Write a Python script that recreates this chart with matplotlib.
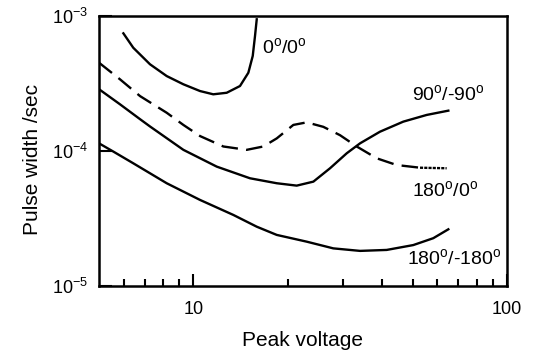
import numpy as np
import matplotlib
matplotlib.use("Agg")
import matplotlib.pyplot as plt
from matplotlib.ticker import FixedLocator, NullFormatter

plt.rcParams['font.family'] = ['Liberation Sans', 'DejaVu Sans']
plt.rcParams['mathtext.fontset'] = 'custom'
plt.rcParams['mathtext.rm'] = 'Liberation Sans'
plt.rcParams['mathtext.it'] = 'Liberation Sans'

# curves (peak voltage, pulse width in s)
v_00 = [5.98, 6.43, 7.27, 8.22, 9.29, 10.5, 11.57, 12.77, 14.08, 14.97, 15.46, 15.72, 15.92]
w_00 = [7.44e-4, 5.82e-4, 4.39e-4, 3.59e-4, 3.12e-4, 2.78e-4, 2.63e-4, 2.70e-4, 3.03e-4,
        3.80e-4, 5.06e-4, 7.11e-4, 9.45e-4]

v_180_0 = [5.0, 5.83, 6.76, 8.22, 9.29, 10.5, 12.46, 14.79, 16.71, 18.44, 20.83, 22.98,
           25.96, 29.34, 33.17, 38.42, 44.5, 52.8]
w_180_0 = [4.51e-4, 3.40e-4, 2.55e-4, 1.92e-4, 1.56e-4, 1.29e-4, 1.08e-4, 1.02e-4, 1.08e-4,
           1.24e-4, 1.56e-4, 1.63e-4, 1.51e-4, 1.31e-4, 1.08e-4, 8.83e-5, 7.87e-5, 7.52e-5]
v_180_0_tail = [52.8, 64.2]
w_180_0_tail = [7.52e-5, 7.45e-5]

v_90 = [5.0, 5.83, 6.76, 7.27, 9.29, 11.87, 15.15, 18.44, 21.35, 24.13, 27.27, 30.83,
        34.0, 39.36, 46.7, 55.46, 65.0]
w_90 = [2.87e-4, 2.22e-4, 1.72e-4, 1.52e-4, 1.02e-4, 7.66e-5, 6.28e-5, 5.77e-5, 5.54e-5,
        5.93e-5, 7.45e-5, 9.62e-5, 1.14e-4, 1.39e-4, 1.65e-4, 1.85e-4, 1.99e-4]

v_180 = [5.0, 5.56, 6.43, 8.22, 10.5, 13.41, 15.92, 18.44, 22.98, 27.93, 34.0, 41.34,
         50.25, 58.2, 65.0]
w_180 = [1.14e-4, 9.89e-5, 8.11e-5, 5.77e-5, 4.34e-5, 3.36e-5, 2.75e-5, 2.39e-5, 2.13e-5,
         1.90e-5, 1.82e-5, 1.85e-5, 2.01e-5, 2.26e-5, 2.63e-5]

labels = ['0$^\\mathregular{o}$/0$^\\mathregular{o}$',
          '90$^\\mathregular{o}$/-90$^\\mathregular{o}$',
          '180$^\\mathregular{o}$/0$^\\mathregular{o}$',
          '180$^\\mathregular{o}$/-180$^\\mathregular{o}$']
label_x = [16.55, 49.8, 49.8, 48.0]
label_y = [5.9e-4, 2.64e-4, 5.14e-5, 1.61e-5]

fig = plt.figure(figsize=(5.4, 3.56), dpi=100)
ax = fig.add_axes([99/540, 1-286/356, 408/540, 270/356])

lw = 1.7
line_kw = dict(color='black', lw=lw, solid_joinstyle='round', dash_joinstyle='round')
ax.plot(v_00, w_00, **line_kw)
ax.plot(v_180_0, w_180_0, ls=(0, (7, 3.5)), **line_kw)
ax.plot(v_180_0_tail, w_180_0_tail, ls=(0, (1.3, 0.5)), **line_kw)
ax.plot(v_90, w_90, **line_kw)
ax.plot(v_180, w_180, **line_kw)

for t, x, y in zip(labels, label_x, label_y):
    ax.text(x, y, t, fontsize=14, ha='left', va='center')

ax.set_xscale('log')
ax.set_yscale('log')
ax.set_xlim(5, 100)
ax.set_ylim(1e-5, 1e-3)

ax.xaxis.set_major_locator(FixedLocator([10, 100]))
ax.set_xticklabels(['10', '100'])
ax.xaxis.set_minor_locator(FixedLocator([6, 7, 8, 9, 20, 30, 40, 50, 60, 70, 80, 90]))
ax.xaxis.set_minor_formatter(NullFormatter())
ax.yaxis.set_major_locator(FixedLocator([1e-5, 1e-4, 1e-3]))
ax.set_yticklabels(['$\\mathregular{10^{-5}}$', '$\\mathregular{10^{-4}}$',
                    '$\\mathregular{10^{-3}}$'])
ax.yaxis.set_minor_locator(FixedLocator([]))

ax.tick_params(axis='both', which='major', direction='in', length=9, width=1.5,
               labelsize=13, pad=8)
ax.tick_params(axis='x', which='major', pad=11)
ax.tick_params(axis='x', which='minor', direction='in', length=5, width=1.5)
for s in ax.spines.values():
    s.set_linewidth(1.8)

ax.set_xlabel('Peak voltage', fontsize=15, labelpad=9)
ax.set_ylabel('Pulse width /sec', fontsize=15)
ax.yaxis.set_label_coords(-0.14, 0.47)

fig.savefig('out.png', dpi=100)
